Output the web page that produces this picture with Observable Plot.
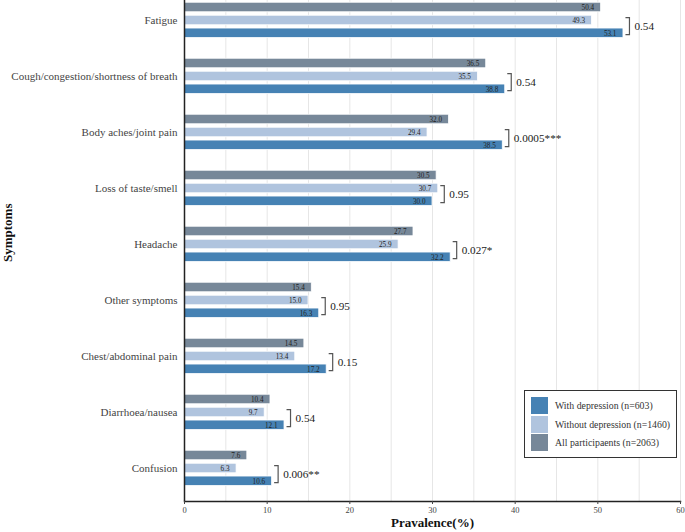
<!DOCTYPE html>
<html><head><meta charset="utf-8">
<script src="https://cdn.jsdelivr.net/npm/d3@7"></script>
<script src="https://cdn.jsdelivr.net/npm/@observablehq/plot@0.6"></script>
<style>
body{margin:0;background:#fff;}
#wrap{position:relative;width:685px;height:532px;font-family:"Liberation Serif","Times New Roman",serif;}
#legend{position:absolute;left:524px;top:390px;width:153px;height:68px;border:1px solid #333;background:#fff;box-sizing:border-box;}
.item{position:absolute;left:6px;height:17px;display:flex;align-items:center;font-size:9.8px;color:#333;white-space:nowrap;}
.sw{width:17px;height:17px;margin-right:7px;}
</style></head><body><div id="wrap"></div>
<script>
const symptoms = ["Fatigue","Cough/congestion/shortness of breath","Body aches/joint pain","Loss of taste/smell","Headache","Other symptoms","Chest/abdominal pain","Diarrhoea/nausea","Confusion"];
const withDep = [53.1,38.8,38.5,30.0,32.2,16.3,17.2,12.1,10.6];
const withoutDep = [49.3,35.5,29.4,30.7,25.9,15.0,13.4,9.7,6.3];
const allPart = [50.4,36.5,32.0,30.5,27.7,15.4,14.5,10.4,7.6];
const pValues = ["0.54","0.54","0.0005***","0.95","0.027*","0.95","0.15","0.54","0.006**"];
const seriesNames = ["With depression (n=603)","Without depression (n=1460)","All participaents (n=2063)"];
const colors = ["#4682b4","#b0c4de","#778899"];
const xTicks = [0,10,20,30,40,50,60];
const gridTicks = [5,10,15,20,25,30,35,40,45,50,55,60];

const rows = symptoms.map((s,i)=>({symptom:s, withDep:withDep[i], withoutDep:withoutDep[i], all:allPart[i], p:pValues[i], maxPair:Math.max(withDep[i],withoutDep[i])}));

const bracket = {draw(ctx){ ctx.moveTo(-4,-8.5); ctx.lineTo(0,-8.5); ctx.lineTo(0,8.5); ctx.lineTo(-4,8.5); }};

const series = [
  {key:"all", color:colors[2], dy:-13},
  {key:"withoutDep", color:colors[1], dy:0},
  {key:"withDep", color:colors[0], dy:12.8}
];
const inset = (56.06-9.6)/2;

const marks = [
  Plot.gridX({ticks: gridTicks, stroke:"#e6e6e6", strokeOpacity:1}),
];
for (const s of series) {
  marks.push(Plot.barX(rows, {x: s.key, y:"symptom", fill:s.color, stroke:"white", strokeWidth:0.8, insetTop:inset, insetBottom:inset, dy:s.dy}));
}
for (const s of series) {
  marks.push(Plot.text(rows, {x: s.key, y:"symptom", text: d=>d[s.key].toFixed(1), dy:s.dy, dx:-7, textAnchor:"end", fontSize:7.2, fill:"#222"}));
}
marks.push(
  Plot.dot(rows, {x:"maxPair", y:"symptom", dx:6, dy:5.6, symbol:bracket, fill:"none", stroke:"#555", strokeWidth:1.2}),
  Plot.text(rows, {x:"maxPair", y:"symptom", text:"p", dx:11, dy:5.6, textAnchor:"start", fontSize:11.2, fill:"#222"}),
  Plot.ruleX([0], {stroke:"#222", strokeWidth:1.5}),
  Plot.frame({anchor:"bottom", stroke:"#222", strokeWidth:1.5}),
  Plot.axisY({tickSize:0, tickPadding:7, fontSize:11, color:"#444", label:null}),
  Plot.axisX({ticks:xTicks, tickSize:3, tickPadding:2, fontSize:8.5, color:"#444", label:null}),
  Plot.text(["Pravalence(%)"], {frameAnchor:"bottom", dy:21, lineAnchor:"middle", fontSize:13, fontWeight:"bold", fill:"#111"}),
  Plot.text(["Symptoms"], {frameAnchor:"left", dx:-177, dy:11, rotate:-90, fontSize:13, fontWeight:"bold", fill:"#111"})
);

const chart = Plot.plot({
  width:685, height:532,
  marginTop:0, marginBottom:31, marginLeft:184, marginRight:5,
  style:{fontFamily:'"Liberation Serif","Times New Roman",serif', background:"#fff"},
  x:{domain:[0,60]},
  y:{domain:symptoms, range:[-8.5,496], padding:0},
  marks
});
const wrap = document.getElementById("wrap");
wrap.appendChild(chart);

const legend = document.createElement("div");
legend.id = "legend";
seriesNames.forEach((n,i)=>{
  const it = document.createElement("div");
  it.className = "item";
  it.style.top = (6 + i*18.5) + "px";
  const sw = document.createElement("div");
  sw.className = "sw"; sw.style.background = colors[i];
  it.appendChild(sw);
  it.appendChild(document.createTextNode(n));
  legend.appendChild(it);
});
wrap.appendChild(legend);
</script></body></html>
